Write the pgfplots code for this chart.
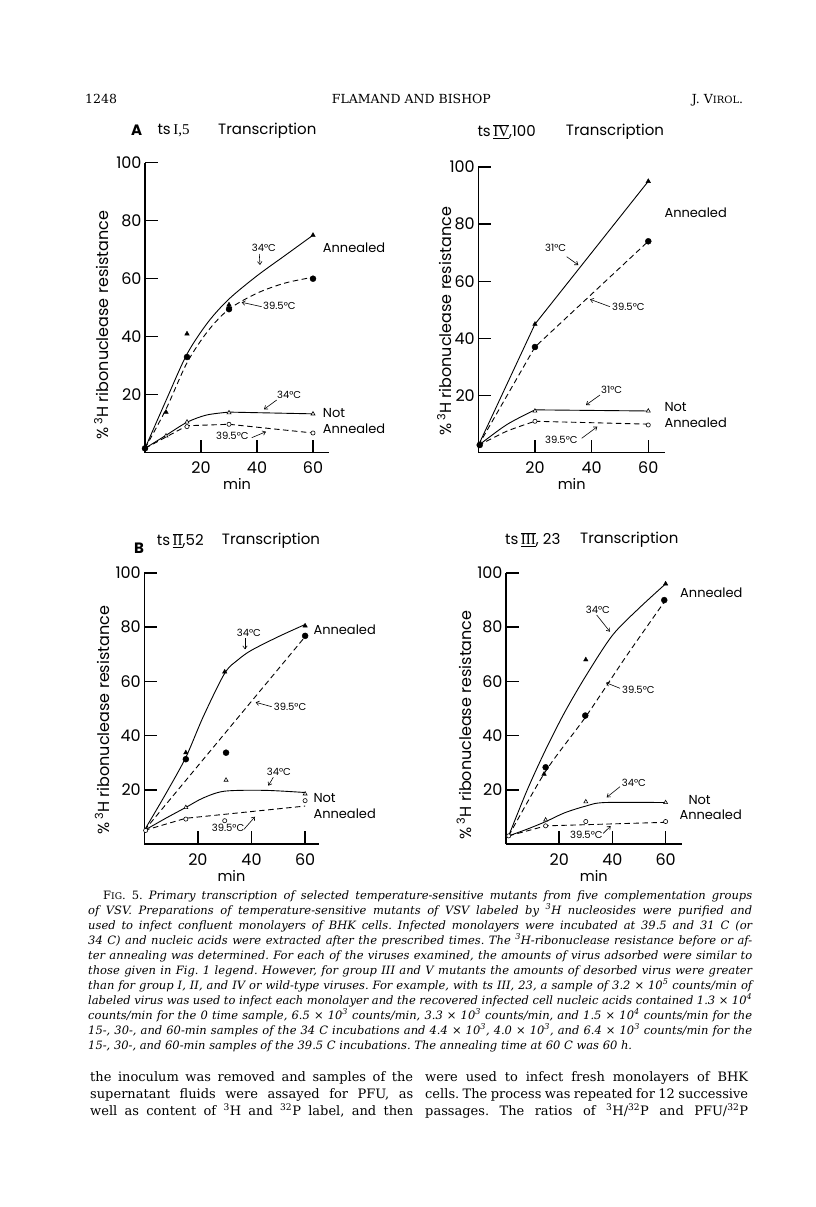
\documentclass[border=0pt]{standalone}
\usepackage{fontspec}
\usepackage{pgfplots}
\pgfplotsset{compat=1.18}
\usetikzlibrary{arrows.meta}
\setmainfont{DejaVu Serif}
\newfontfamily\gf{Poppins}
\newfontfamily\romf{Liberation Serif}
\newcommand{\rn}[1]{\ensuremath{\overline{\underline{\hbox{\romf #1}}}}}
\newcommand{\gfs}[1]{\gf\fontsize{#1}{#1}\selectfont}
\newcommand{\ann}[3]{\node[anchor=west,inner sep=0pt,font=\gfs{10}] at (#1pt,-#2pt) {#3};}
\newcommand{\lbl}[3]{\node[anchor=west,inner sep=0pt,font=\gfs{13}] at (#1pt,-#2pt) {#3};}
\newcommand{\ttl}[3]{\node[anchor=west,inner sep=0pt,font=\gfs{15}] at (#1pt,-#2pt) {#3};}
\newcommand{\arr}[4]{\draw[-{Straight Barb[length=3pt,width=4.5pt]},line width=0.6pt] (#1pt,-#2pt) -- (#3pt,-#4pt);}
\newcommand{\cl}[1]{\makebox[664pt][s]{#1}\\}
\pgfplotsset{
 panel/.style={
  axis lines=left, axis line style={-,line width=1.5pt},
  enlargelimits=false, clip=false, anchor=south west,
  xmin=0, ymin=0, ymax=100,
  xtick={20,40,60}, ytick={20,40,60,80,100},
  tick align=inside, major tick length=13pt,
  tick style={black,line width=1.5pt},
  /pgf/number format/assume math mode=true,
  ticklabel style={font=\gfs{16}},
  xticklabel style={anchor=base, yshift=-21pt},
  xlabel={min}, xlabel style={font=\gfs{14.5}, anchor=base, at={(axis description cs:0.5,0)}, yshift=-37pt},
  ylabel={\%\,\textsuperscript{3}H ribonuclease resistance},
  ylabel style={font=\gfs{16}, anchor=base},
 },
 sline/.style={black,line width=0.9pt,no marks},
 dline/.style={black,line width=0.9pt,no marks,dash pattern=on 5.5pt off 3.5pt},
 ftri/.style={only marks,mark=triangle*,mark size=2.6pt,black},
 fcir/.style={only marks,mark=*,mark size=3pt,black},
 otri/.style={only marks,mark=triangle*,mark size=2.3pt,black,mark options={fill=white,line width=0.6pt}},
 ocir/.style={only marks,mark=*,mark size=2.1pt,black,mark options={fill=white,line width=0.6pt}},
}
\begin{document}
\frenchspacing
\begin{tikzpicture}
\fill[white] (0pt,0pt) rectangle (816pt,-1207pt);
\path[use as bounding box] (0pt,0pt) rectangle (816pt,-1207pt);

% ---------- Panel A ----------
\begin{axis}[panel, at={(145pt,-452.7pt)}, x=2.8pt, y=2.9pt, xmax=65.7,
  ylabel style={at={(axis description cs:-0.198,0.44)}}]
\addplot[sline,smooth] coordinates {(0,1.5) (7.5,18) (15,34) (22.5,45) (30,53) (40,61) (50,68) (60,75)};
\addplot[dline,smooth] coordinates {(0,1.5) (7.5,15) (15,31) (22.5,42) (30,49.5) (40,55) (50,58.5) (60,60.5)};
\addplot[sline,smooth] coordinates {(0,1.5) (7.5,6) (15,10.5) (22,13) (30,14)};
\addplot[sline] coordinates {(30,14) (60,13.4)};
\addplot[dline] coordinates {(0,1.5) (15,9.3) (30,9.8) (60,6.8)};
\addplot[ftri] coordinates {(0,1.5) (7.5,14) (15,41) (30,51) (60,75)};
\addplot[fcir] coordinates {(0,1.5) (15,33) (30,49.5) (60,60)};
\addplot[otri] coordinates {(7.5,5.8) (15,10.6) (30,13.8) (60,13.4)};
\addplot[ocir] coordinates {(15,9) (30,9.8) (60,6.8)};
\end{axis}

% ---------- Panel IV ----------
\begin{axis}[panel, at={(478.3pt,-452.7pt)}, x=2.833pt, y=2.857pt, xmax=65.9,
  ylabel style={at={(axis description cs:-0.1425,0.46)}}]
\addplot[sline] coordinates {(0,2.5) (20,45) (60,95)};
\addplot[dline] coordinates {(0,2.5) (20,37) (60,74)};
\addplot[sline,smooth] coordinates {(0,2.5) (10,9.8) (20,15)};
\addplot[sline] coordinates {(20,15) (60,14.6)};
\addplot[dline,smooth] coordinates {(0,2.5) (10,7.5) (20,11)};
\addplot[dline] coordinates {(20,11) (60,10)};
\addplot[ftri] coordinates {(0.5,2.7) (20,45) (60,95)};
\addplot[fcir] coordinates {(0.5,2.7) (20,37) (60,74)};
\addplot[otri] coordinates {(20,14.6) (60,14.6)};
\addplot[ocir] coordinates {(20,11) (60,9.7)};
\end{axis}

% ---------- Panel B ----------
\begin{axis}[panel, at={(144.3pt,-844pt)}, x=2.68pt, y=2.71pt, xmax=65,
  ylabel style={at={(axis description cs:-0.201,0.457)}}]
\addplot[sline,smooth] coordinates {(0,5) (8,18.5) (15.5,32) (22,47) (30,63) (35,68) (40,71.5) (50,76.5) (60,81)};
\addplot[dline] coordinates {(0,5) (60,76.5)};
\addplot[sline,smooth] coordinates {(0,5) (8,9.5) (15.5,13.5) (22,17) (30,19.5) (45,19.8) (60,19)};
\addplot[dline] coordinates {(0,5) (15.5,9.5) (60,14)};
\addplot[ftri] coordinates {(15.5,33.7) (30,63.5) (60,80.5)};
\addplot[fcir] coordinates {(15.5,31.3) (30.5,33.7) (60,76.8)};
\addplot[otri] coordinates {(15.5,13.5) (30.5,23.6) (60,18.5)};
\addplot[ocir] coordinates {(0.5,5) (15.5,9.2) (30,8.6) (60,16)};
\end{axis}

% ---------- Panel III ----------
\begin{axis}[panel, at={(506pt,-844pt)}, x=2.66pt, y=2.71pt, xmax=66,
  ylabel style={at={(axis description cs:-0.199,0.44)}}]
\addplot[sline,smooth] coordinates {(1,3) (8,20) (15,35) (22,48.5) (30,62) (40,77) (50,87) (60,96)};
\addplot[dline,smooth] coordinates {(1,3) (15,27) (30,47) (45,69) (60,90)};
\addplot[sline,smooth] coordinates {(1,3) (8,5.5) (15,8.3) (22,11.5) (30,14) (37,15.3) (60,15.3)};
\addplot[dline] coordinates {(1,3) (15,6.7) (60,8)};
\addplot[ftri] coordinates {(14.3,25.8) (30,68) (60,96)};
\addplot[fcir] coordinates {(14.9,28.3) (29.8,47.4) (59.5,90)};
\addplot[otri] coordinates {(14.9,8.9) (30,15.6) (60,15.3)};
\addplot[ocir] coordinates {(1,3) (14.9,6.7) (30,8.3) (60,8.3)};
\end{axis}

% ---------- titles ----------
\node[font=\gfs{15}\bfseries,inner sep=0pt] at (136.7pt,-130.7pt) {A};
\ttl{157.3}{130.7}{ts\,\romf I,5}
\ttl{218}{130.7}{Transcription}
\ttl{477.3}{131.7}{ts\,\rn{IV},100}
\ttl{565.7}{131.7}{Transcription}
\node[font=\gfs{15}\bfseries,inner sep=0pt] at (139pt,-548pt) {B};
\ttl{156.7}{540.7}{ts\,\rn{II},52}
\ttl{221.7}{540.7}{Transcription}
\ttl{505}{540}{ts\,\rn{III}, 23}
\ttl{580}{540}{Transcription}

% ---------- annotations A ----------
\ann{251.7}{248.3}{34°C} \arr{259.3}{254}{260}{265}
\lbl{322.7}{248}{Annealed}
\ann{263}{306}{39.5°C} \arr{261.7}{306.7}{241.7}{302.3}
\ann{277}{395}{34°C} \arr{276.7}{400}{264}{409.3}
\lbl{322.7}{413.3}{Not} \lbl{322.7}{428.3}{Annealed}
\ann{216}{436}{39.5°C} \arr{251.7}{437.7}{266}{431.7}
% ---------- annotations IV ----------
\ann{545}{248.3}{31°C} \arr{566.7}{256.7}{578.3}{265}
\lbl{664.3}{212.3}{Annealed}
\ann{612}{306.7}{39.5°C} \arr{610}{306.7}{590}{299.3}
\ann{601}{390}{31°C} \arr{600}{395}{586}{405}
\lbl{664.3}{406.7}{Not} \lbl{664.3}{422.3}{Annealed}
\ann{545}{440}{39.5°C} \arr{581.7}{438.3}{597.3}{426.7}
% ---------- annotations B ----------
\ann{236.7}{633.3}{34°C} \arr{245}{638.3}{245}{649.3}
\lbl{313.3}{630}{Annealed}
\ann{273.7}{706.7}{39.5°C} \arr{271.7}{706.7}{255.7}{702.3}
\ann{266.7}{771.7}{34°C} \arr{273.3}{777.3}{268.3}{785.7}
\lbl{313.3}{797.7}{Not} \lbl{313.3}{813.3}{Annealed}
\ann{211.7}{828.3}{39.5°C} \arr{244}{829.3}{255}{816.7}
% ---------- annotations III ----------
\ann{585.7}{610}{34°C} \arr{596.7}{615}{610}{631.7}
\lbl{680}{592.7}{Annealed}
\ann{622}{690}{39.5°C} \arr{620}{688.3}{606}{682.7}
\ann{621.7}{783.3}{34°C} \arr{620}{786.7}{606.7}{797.3}
\lbl{688.3}{800}{Not} \lbl{679.3}{815}{Annealed}
\ann{570}{835}{39.5°C} \arr{603.3}{833.3}{610.7}{826}

% ---------- header ----------
\node[anchor=base west,inner sep=0pt,font=\fontsize{12.5}{12.5}\selectfont] at (85pt,-103pt) {1248};
\node[anchor=base west,inner sep=0pt,font=\fontsize{12.5}{12.5}\selectfont] at (331.7pt,-103pt) {FLAMAND AND BISHOP};
\node[anchor=base west,inner sep=0pt,font=\fontsize{12.5}{12.5}\selectfont] at (691.7pt,-103pt) {J. V{\fontsize{10}{10}\selectfont IROL}.};

% ---------- caption ----------
\node[anchor=base west,inner sep=0pt] at (88pt,-899pt) {\parbox[t]{664pt}{\fontsize{11.5}{15}\selectfont
\hspace*{15pt}\makebox[649pt][s]{F{\fontsize{9.2}{9.2}\selectfont IG}. 5. \itshape Primary transcription of selected temperature-sensitive mutants from five complementation groups}\\
\itshape
\cl{of VSV. Preparations of temperature-sensitive mutants of VSV labeled by \textsuperscript{3}H nucleosides were purified and}
\cl{used to infect confluent monolayers of BHK cells. Infected monolayers were incubated at 39.5 and 31 C (or}
\cl{34 C) and nucleic acids were extracted after the prescribed times. The \textsuperscript{3}H-ribonuclease resistance before or af-}
\cl{ter annealing was determined. For each of the viruses examined, the amounts of virus adsorbed were similar to}
\cl{those given in Fig. 1 legend. However, for group III and V mutants the amounts of desorbed virus were greater}
\cl{than for group I, II, and IV or wild-type viruses. For example, with ts III, 23, a sample of 3.2 × 10\textsuperscript{5} counts/min of}
\cl{labeled virus was used to infect each monolayer and the recovered infected cell nucleic acids contained 1.3 × 10\textsuperscript{4}}
\cl{counts/min for the 0 time sample, 6.5 × 10\textsuperscript{3} counts/min, 3.3 × 10\textsuperscript{3} counts/min, and 1.5 × 10\textsuperscript{4} counts/min for the}
\cl{15-, 30-, and 60-min samples of the 34 C incubations and 4.4 × 10\textsuperscript{3}, 4.0 × 10\textsuperscript{3}, and 6.4 × 10\textsuperscript{3} counts/min for the}
15-, 30-, and 60-min samples of the 39.5 C incubations. The annealing time at 60 C was 60 h.}};

% ---------- body text ----------
\node[anchor=base west,inner sep=0pt] at (90pt,-1081pt) {\parbox[t]{323pt}{\fontsize{13}{17}\selectfont
\makebox[323pt][s]{the inoculum was removed and samples of the}\\
\makebox[323pt][s]{supernatant fluids were assayed for PFU, as}\\
\makebox[323pt][s]{well as content of \textsuperscript{3}H and \textsuperscript{32}P label, and then}}};
\node[anchor=base west,inner sep=0pt] at (425pt,-1081pt) {\parbox[t]{323pt}{\fontsize{13}{17}\selectfont
\makebox[323pt][s]{were used to infect fresh monolayers of BHK}\\
\makebox[323pt][s]{cells. The process was repeated for 12 successive}\\
\makebox[323pt][s]{passages. The ratios of \textsuperscript{3}H/\textsuperscript{32}P and PFU/\textsuperscript{32}P}}};
\end{tikzpicture}
\end{document}
